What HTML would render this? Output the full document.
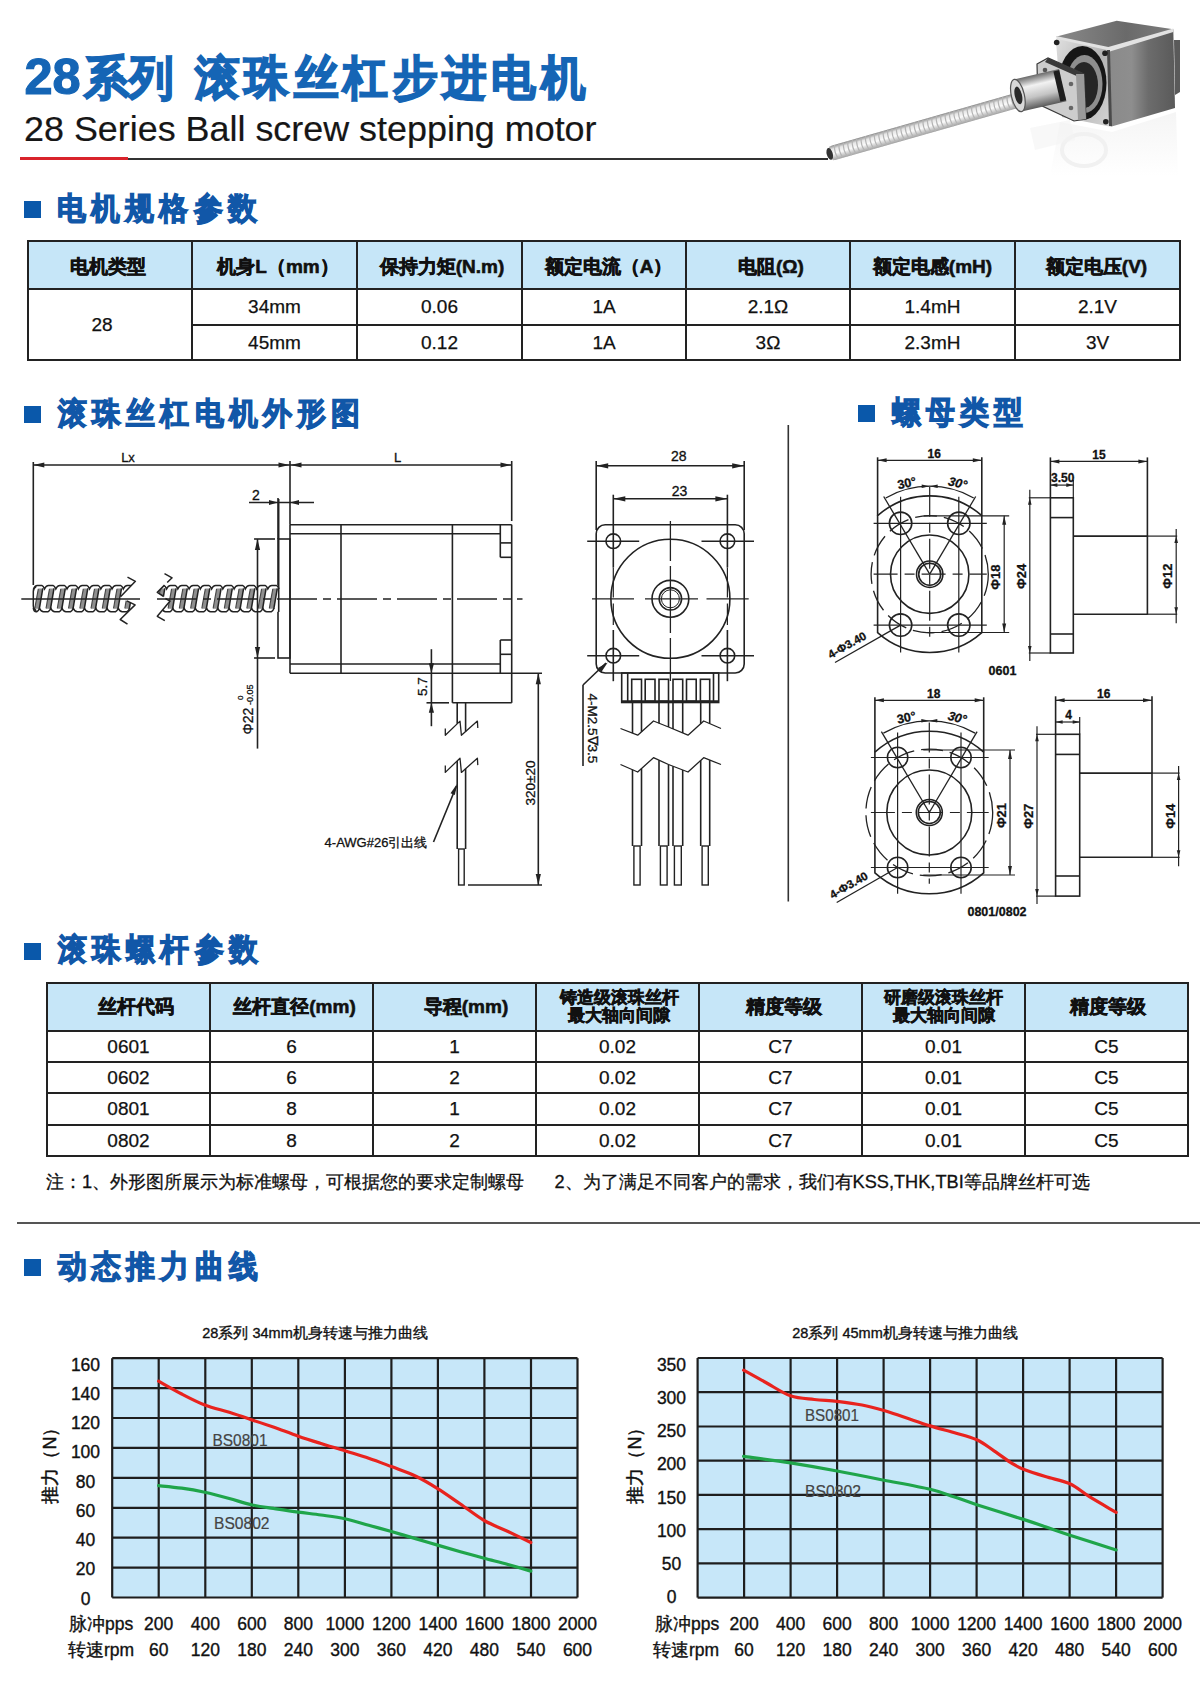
<!DOCTYPE html>
<html><head><meta charset="utf-8">
<style>
html,body{margin:0;padding:0;background:#fff;}
body{width:1200px;height:1683px;position:relative;overflow:hidden;font-family:"Liberation Sans",sans-serif;color:#111;}
.a{position:absolute;white-space:nowrap;}
.blue{color:#1360b0;}
.sq{position:absolute;width:17px;height:17px;background:#0a58aa;}
.sh{position:absolute;font-size:31px;line-height:32px;font-weight:900;color:#1157a8;letter-spacing:5.7px;white-space:nowrap;-webkit-text-stroke:1.3px #1157a8;transform:scaleX(0.93);transform-origin:0 0;}
table{border-collapse:collapse;position:absolute;table-layout:fixed;}
td{border:2px solid #222;text-align:center;padding:0;font-size:19px;color:#111;-webkit-text-stroke:0.25px #111;}
tr.h td{background:#c6e6f8;font-weight:bold;font-size:19px;-webkit-text-stroke:0.6px #111;}
svg{position:absolute;left:0;top:0;}
</style></head><body>

<!-- Title -->
<div class="a" style="left:24.5px;top:50px;font-size:50.5px;line-height:54px;font-weight:bold;color:#1565b5;-webkit-text-stroke:1.2px #1565b5;">28</div>
<div class="a" style="left:84px;top:51px;font-size:47px;line-height:54px;font-weight:900;color:#1565b5;-webkit-text-stroke:1.7px #1565b5;letter-spacing:0px;transform:scaleX(0.95);transform-origin:0 0;">系列</div>
<div class="a" style="left:195px;top:51px;font-size:47px;line-height:54px;font-weight:900;color:#1565b5;-webkit-text-stroke:1.7px #1565b5;letter-spacing:5px;transform:scaleX(0.95);transform-origin:0 0;">滚珠丝杠步进电机</div>
<div class="a" id="t2" style="left:24px;top:110px;font-size:35.9px;line-height:38px;color:#161616;-webkit-text-stroke:0.2px #161616;">28 Series Ball screw stepping motor</div>
<div class="a" style="left:20px;top:157px;width:108px;height:3px;background:#d9232b;"></div>
<div class="a" style="left:128px;top:158px;width:700px;height:1.5px;background:#333;"></div>

<!-- Section 1 -->
<div class="sq" style="left:24px;top:201px;"></div>
<div class="sh" style="left:57px;top:193px;">电机规格参数</div>

<table style="left:27px;top:240px;width:1151px;">
<colgroup><col style="width:164px"><col style="width:165px"><col style="width:165px"><col style="width:164px"><col style="width:164px"><col style="width:165px"><col style="width:165px"></colgroup>
<tr class="h" style="height:48px"><td style="padding:4px 4px 0 0">电机类型</td><td style="padding:4px 0 0 7px">机身L（mm）</td><td style="padding:4px 0 0 5px">保持力矩(N.m)</td><td style="padding:4px 0 0 9px">额定电流（A）</td><td style="padding:4px 0 0 6px">电阻(Ω)</td><td style="padding-top:4px">额定电感(mH)</td><td style="padding:4px 2px 0 0">额定电压(V)</td></tr>
<tr style="height:36px"><td rowspan="2" style="padding-right:16px">28</td><td>34mm</td><td>0.06</td><td>1A</td><td>2.1Ω</td><td>1.4mH</td><td>2.1V</td></tr>
<tr style="height:35px"><td>45mm</td><td>0.12</td><td>1A</td><td>3Ω</td><td>2.3mH</td><td>3V</td></tr>
</table>

<!-- Section 2 -->
<div class="sq" style="left:24px;top:406px;"></div>
<div class="sh" style="left:58px;top:398px;">滚珠丝杠电机外形图</div>
<div class="sq" style="left:858px;top:405px;"></div>
<div class="sh" style="left:892px;top:397px;">螺母类型</div>

<!-- Section 3 -->
<div class="sq" style="left:24px;top:943px;"></div>
<div class="sh" style="left:58px;top:934px;">滚珠螺杆参数</div>

<table style="left:46px;top:982px;width:1141px;">
<colgroup><col style="width:163px"><col style="width:163px"><col style="width:163px"><col style="width:163px"><col style="width:163px"><col style="width:163px"><col style="width:163px"></colgroup>
<tr class="h" style="height:48px"><td style="padding-left:14px">丝杆代码</td><td style="padding-left:6px">丝杆直径(mm)</td><td style="padding-left:23px">导程(mm)</td><td style="line-height:18px;font-size:17px;padding-left:3px">铸造级滚珠丝杆<br>最大轴向间隙</td><td style="padding-left:7px">精度等级</td><td style="line-height:18px;font-size:17px">研磨级滚珠丝杆<br>最大轴向间隙</td><td style="padding-left:3px">精度等级</td></tr>
<tr style="height:31px"><td>0601</td><td>6</td><td>1</td><td>0.02</td><td>C7</td><td>0.01</td><td>C5</td></tr>
<tr style="height:31px"><td>0602</td><td>6</td><td>2</td><td>0.02</td><td>C7</td><td>0.01</td><td>C5</td></tr>
<tr style="height:32px"><td>0801</td><td>8</td><td>1</td><td>0.02</td><td>C7</td><td>0.01</td><td>C5</td></tr>
<tr style="height:31px"><td>0802</td><td>8</td><td>2</td><td>0.02</td><td>C7</td><td>0.01</td><td>C5</td></tr>
</table>

<div class="a" style="left:46px;top:1171px;font-size:18.2px;line-height:22px;color:#111;-webkit-text-stroke:0.3px #111;">注：1、外形图所展示为标准螺母，可根据您的要求定制螺母&nbsp;&nbsp;&nbsp;&nbsp;&nbsp;&nbsp;2、为了满足不同客户的需求，我们有KSS,THK,TBI等品牌丝杆可选</div>

<div class="a" style="left:17px;top:1222px;width:1183px;height:2px;background:#555;"></div>

<!-- Section 4 -->
<div class="sq" style="left:24px;top:1259px;"></div>
<div class="sh" style="left:58px;top:1250.5px;">动态推力曲线</div>

<svg width="1200" height="1683" style="position:absolute;left:0;top:0" font-family="Liberation Sans, sans-serif">
<defs>
<linearGradient id="scr" x1="0" y1="0" x2="0" y2="1">
<stop offset="0" stop-color="#8a8a8a"/><stop offset="0.25" stop-color="#e6e6e6"/><stop offset="0.55" stop-color="#fafafa"/><stop offset="1" stop-color="#a0a0a0"/></linearGradient>
<linearGradient id="side" x1="0" y1="0" x2="1" y2="0">
<stop offset="0" stop-color="#8a8a8a"/><stop offset="0.35" stop-color="#8e8e8e"/><stop offset="0.6" stop-color="#6c6c6c"/><stop offset="1" stop-color="#5a5a5a"/></linearGradient>
<linearGradient id="top" x1="0" y1="0" x2="1" y2="0">
<stop offset="0" stop-color="#8a8a8a"/><stop offset="0.6" stop-color="#6a6a6a"/><stop offset="1" stop-color="#7c7c7c"/></linearGradient>
<linearGradient id="front" x1="0" y1="0" x2="1" y2="1">
<stop offset="0" stop-color="#e0e0e0"/><stop offset="0.5" stop-color="#b4b4b4"/><stop offset="1" stop-color="#d4d4d4"/></linearGradient>
<linearGradient id="nutg" x1="0" y1="0" x2="0" y2="1">
<stop offset="0" stop-color="#6a6a6a"/><stop offset="0.3" stop-color="#f2f2f2"/><stop offset="0.65" stop-color="#c4c4c4"/><stop offset="1" stop-color="#5a5a5a"/></linearGradient>
<linearGradient id="refl" x1="0" y1="0" x2="0" y2="1">
<stop offset="0" stop-color="#ececec"/><stop offset="1" stop-color="#ffffff"/></linearGradient>
</defs>
<polygon points="1060,122 1112,132 1176,112 1178,176 1050,176" fill="url(#refl)" opacity="0.55"/>
<ellipse cx="1084" cy="150" rx="22" ry="16" fill="none" stroke="#f1f1f1" stroke-width="4"/>
<polygon points="1030,128 1070,120 1075,140 1035,150" fill="#f3f3f3" opacity="0.6"/>
<g transform="translate(828.3,154.3) rotate(-15.94)">
<rect x="0" y="-7.5" width="206.9" height="15" rx="6" fill="url(#scr)"/>
<path d="M4.0,-7.2 Q1.2,0 4.0,7.2" stroke="#b4b4b4" stroke-width="1.2" fill="none"/>
<path d="M8.6,-7.2 Q5.8,0 8.6,7.2" stroke="#b4b4b4" stroke-width="1.2" fill="none"/>
<path d="M13.2,-7.2 Q10.4,0 13.2,7.2" stroke="#b4b4b4" stroke-width="1.2" fill="none"/>
<path d="M17.8,-7.2 Q15.0,0 17.8,7.2" stroke="#b4b4b4" stroke-width="1.2" fill="none"/>
<path d="M22.4,-7.2 Q19.6,0 22.4,7.2" stroke="#b4b4b4" stroke-width="1.2" fill="none"/>
<path d="M27.0,-7.2 Q24.2,0 27.0,7.2" stroke="#b4b4b4" stroke-width="1.2" fill="none"/>
<path d="M31.6,-7.2 Q28.8,0 31.6,7.2" stroke="#b4b4b4" stroke-width="1.2" fill="none"/>
<path d="M36.2,-7.2 Q33.4,0 36.2,7.2" stroke="#b4b4b4" stroke-width="1.2" fill="none"/>
<path d="M40.8,-7.2 Q38.0,0 40.8,7.2" stroke="#b4b4b4" stroke-width="1.2" fill="none"/>
<path d="M45.4,-7.2 Q42.6,0 45.4,7.2" stroke="#b4b4b4" stroke-width="1.2" fill="none"/>
<path d="M50.0,-7.2 Q47.2,0 50.0,7.2" stroke="#b4b4b4" stroke-width="1.2" fill="none"/>
<path d="M54.6,-7.2 Q51.8,0 54.6,7.2" stroke="#b4b4b4" stroke-width="1.2" fill="none"/>
<path d="M59.2,-7.2 Q56.4,0 59.2,7.2" stroke="#b4b4b4" stroke-width="1.2" fill="none"/>
<path d="M63.8,-7.2 Q61.0,0 63.8,7.2" stroke="#b4b4b4" stroke-width="1.2" fill="none"/>
<path d="M68.4,-7.2 Q65.6,0 68.4,7.2" stroke="#b4b4b4" stroke-width="1.2" fill="none"/>
<path d="M73.0,-7.2 Q70.2,0 73.0,7.2" stroke="#b4b4b4" stroke-width="1.2" fill="none"/>
<path d="M77.6,-7.2 Q74.8,0 77.6,7.2" stroke="#b4b4b4" stroke-width="1.2" fill="none"/>
<path d="M82.2,-7.2 Q79.4,0 82.2,7.2" stroke="#b4b4b4" stroke-width="1.2" fill="none"/>
<path d="M86.8,-7.2 Q84.0,0 86.8,7.2" stroke="#b4b4b4" stroke-width="1.2" fill="none"/>
<path d="M91.4,-7.2 Q88.6,0 91.4,7.2" stroke="#b4b4b4" stroke-width="1.2" fill="none"/>
<path d="M96.0,-7.2 Q93.2,0 96.0,7.2" stroke="#b4b4b4" stroke-width="1.2" fill="none"/>
<path d="M100.6,-7.2 Q97.8,0 100.6,7.2" stroke="#b4b4b4" stroke-width="1.2" fill="none"/>
<path d="M105.2,-7.2 Q102.4,0 105.2,7.2" stroke="#b4b4b4" stroke-width="1.2" fill="none"/>
<path d="M109.8,-7.2 Q107.0,0 109.8,7.2" stroke="#b4b4b4" stroke-width="1.2" fill="none"/>
<path d="M114.4,-7.2 Q111.6,0 114.4,7.2" stroke="#b4b4b4" stroke-width="1.2" fill="none"/>
<path d="M119.0,-7.2 Q116.2,0 119.0,7.2" stroke="#b4b4b4" stroke-width="1.2" fill="none"/>
<path d="M123.6,-7.2 Q120.8,0 123.6,7.2" stroke="#b4b4b4" stroke-width="1.2" fill="none"/>
<path d="M128.2,-7.2 Q125.4,0 128.2,7.2" stroke="#b4b4b4" stroke-width="1.2" fill="none"/>
<path d="M132.8,-7.2 Q130.0,0 132.8,7.2" stroke="#b4b4b4" stroke-width="1.2" fill="none"/>
<path d="M137.4,-7.2 Q134.6,0 137.4,7.2" stroke="#b4b4b4" stroke-width="1.2" fill="none"/>
<path d="M142.0,-7.2 Q139.2,0 142.0,7.2" stroke="#b4b4b4" stroke-width="1.2" fill="none"/>
<path d="M146.6,-7.2 Q143.8,0 146.6,7.2" stroke="#b4b4b4" stroke-width="1.2" fill="none"/>
<path d="M151.2,-7.2 Q148.4,0 151.2,7.2" stroke="#b4b4b4" stroke-width="1.2" fill="none"/>
<path d="M155.8,-7.2 Q153.0,0 155.8,7.2" stroke="#b4b4b4" stroke-width="1.2" fill="none"/>
<path d="M160.4,-7.2 Q157.6,0 160.4,7.2" stroke="#b4b4b4" stroke-width="1.2" fill="none"/>
<path d="M165.0,-7.2 Q162.2,0 165.0,7.2" stroke="#b4b4b4" stroke-width="1.2" fill="none"/>
<path d="M169.6,-7.2 Q166.8,0 169.6,7.2" stroke="#b4b4b4" stroke-width="1.2" fill="none"/>
<path d="M174.2,-7.2 Q171.4,0 174.2,7.2" stroke="#b4b4b4" stroke-width="1.2" fill="none"/>
<path d="M178.8,-7.2 Q176.0,0 178.8,7.2" stroke="#b4b4b4" stroke-width="1.2" fill="none"/>
<path d="M183.4,-7.2 Q180.6,0 183.4,7.2" stroke="#b4b4b4" stroke-width="1.2" fill="none"/>
<path d="M188.0,-7.2 Q185.2,0 188.0,7.2" stroke="#b4b4b4" stroke-width="1.2" fill="none"/>
<path d="M192.6,-7.2 Q189.8,0 192.6,7.2" stroke="#b4b4b4" stroke-width="1.2" fill="none"/>
<path d="M197.2,-7.2 Q194.4,0 197.2,7.2" stroke="#b4b4b4" stroke-width="1.2" fill="none"/>
<path d="M201.8,-7.2 Q199.0,0 201.8,7.2" stroke="#b4b4b4" stroke-width="1.2" fill="none"/>
<ellipse cx="1.5" cy="0" rx="3" ry="6" fill="#333"/>
</g>
<polygon points="1108.3,48.3 1173.3,29.2 1175,108 1110.8,126.7" fill="url(#side)"/>
<polygon points="1174,40 1180,40 1180,92 1175,95" fill="#5a5a5a"/>
<polygon points="1055.8,36.7 1116.7,20.8 1173.3,29.2 1108.3,48.3" fill="url(#top)"/>
<polygon points="1056,36 1108.3,47 1173.3,28.5 1173.3,32 1108.3,52 1057,40" fill="#e2e2e2"/>
<polygon points="1055.8,38.7 1108.3,50.3 1110.8,126.7 1062,117" fill="url(#front)"/>
<polygon points="1107,50 1110,50 1112,126 1109,126" fill="#4a4a4a"/>
<ellipse cx="1082.5" cy="83" rx="24" ry="37" fill="#161616"/>
<ellipse cx="1084.5" cy="84" rx="18" ry="29" fill="#8e8e8e"/>
<ellipse cx="1084" cy="85" rx="14" ry="23" fill="#262626"/>
<circle cx="1056.7" cy="42.5" r="2.8" fill="#222"/>
<circle cx="1105.0" cy="53.3" r="2.8" fill="#222"/>
<circle cx="1105.8" cy="121.7" r="2.8" fill="#222"/>
<polygon points="1037,64 1048,58 1084,74 1086,119 1074,121 1038,104" fill="#cdcdcd" stroke="#3a3a3a" stroke-width="1.2"/>
<polygon points="1048,58 1084,74 1081,78 1045,62" fill="#3a3a3a"/>
<polygon points="1076,74 1084,74 1086,119 1078,120" fill="#9a9a9a"/>
<circle cx="1071" cy="84" r="2.3" fill="#666"/><circle cx="1071" cy="108" r="2.3" fill="#666"/><circle cx="1045" cy="70" r="2.3" fill="#555"/>
<g transform="translate(1018,96) rotate(-13)">
<rect x="0" y="-17" width="46" height="33" fill="url(#nutg)"/>
<rect x="40" y="-16" width="6" height="31" fill="#1e1e1e"/>
<ellipse cx="0" cy="-0.5" rx="6.5" ry="16.5" fill="#d8d8d8" stroke="#555" stroke-width="1.2"/>
<ellipse cx="0.5" cy="-0.5" rx="3.6" ry="9" fill="#2a2a2a"/>
</g>
<g font-family="Liberation Sans, sans-serif" stroke-linecap="butt">
<line x1="33.3" y1="462.0" x2="33.3" y2="585.0" stroke="#222" stroke-width="1.60"/>
<line x1="33.3" y1="465.0" x2="511.5" y2="465.0" stroke="#222" stroke-width="1.60"/>
<polygon points="33.3,465.0 44.3,462.4 44.3,467.6" fill="#222"/>
<polygon points="289.5,465.0 278.5,467.6 278.5,462.4" fill="#222"/>
<polygon points="290.5,465.0 301.5,462.4 301.5,467.6" fill="#222"/>
<polygon points="511.5,465.0 500.5,467.6 500.5,462.4" fill="#222"/>
<line x1="290.0" y1="461.0" x2="290.0" y2="524.7" stroke="#222" stroke-width="1.60"/>
<line x1="511.7" y1="461.0" x2="511.7" y2="521.0" stroke="#222" stroke-width="1.60"/>
<text x="128.0" y="462.0" font-size="13.0" text-anchor="middle" font-weight="normal" fill="#111" stroke="#111" stroke-width="0.3">Lx</text>
<text x="397.5" y="462.0" font-size="13.0" text-anchor="middle" font-weight="normal" fill="#111" stroke="#111" stroke-width="0.3">L</text>
<line x1="249.0" y1="502.5" x2="314.0" y2="502.5" stroke="#222" stroke-width="1.60"/>
<polygon points="278.0,502.5 269.0,505.1 269.0,499.9" fill="#222"/>
<polygon points="290.0,502.5 299.0,499.9 299.0,505.1" fill="#222"/>
<line x1="278.0" y1="498.0" x2="278.0" y2="539.0" stroke="#222" stroke-width="1.60"/>
<text x="256.0" y="500.0" font-size="14.0" text-anchor="middle" font-weight="normal" fill="#111" stroke="#111" stroke-width="0.3">2</text>
<rect x="278.0" y="539.0" width="12.0" height="119.0" rx="0.0" fill="none" stroke="#222" stroke-width="1.60"/>
<line x1="290.0" y1="524.7" x2="511.7" y2="524.7" stroke="#222" stroke-width="1.60"/>
<line x1="290.0" y1="673.2" x2="542.0" y2="673.2" stroke="#222" stroke-width="1.60"/>
<line x1="290.0" y1="524.7" x2="290.0" y2="673.2" stroke="#222" stroke-width="1.60"/>
<line x1="290.0" y1="533.7" x2="500.3" y2="533.7" stroke="#222" stroke-width="1.60"/>
<line x1="290.0" y1="664.0" x2="500.3" y2="664.0" stroke="#222" stroke-width="1.60"/>
<line x1="341.0" y1="524.7" x2="341.0" y2="673.2" stroke="#222" stroke-width="1.60"/>
<line x1="452.4" y1="524.7" x2="452.4" y2="702.8" stroke="#222" stroke-width="1.60"/>
<line x1="511.7" y1="524.7" x2="511.7" y2="702.8" stroke="#222" stroke-width="1.60"/>
<line x1="500.3" y1="524.7" x2="500.3" y2="557.3" stroke="#222" stroke-width="1.60"/>
<line x1="500.3" y1="542.9" x2="511.7" y2="542.9" stroke="#222" stroke-width="1.60"/>
<line x1="500.3" y1="557.3" x2="511.7" y2="557.3" stroke="#222" stroke-width="1.60"/>
<line x1="500.3" y1="640.0" x2="500.3" y2="673.2" stroke="#222" stroke-width="1.60"/>
<line x1="500.3" y1="640.0" x2="511.7" y2="640.0" stroke="#222" stroke-width="1.60"/>
<line x1="500.3" y1="654.3" x2="511.7" y2="654.3" stroke="#222" stroke-width="1.60"/>
<line x1="452.4" y1="702.8" x2="511.7" y2="702.8" stroke="#222" stroke-width="1.60"/>
<rect x="33.3" y="585.4" width="105.7" height="26.4" fill="#fff"/>
<polygon points="38.3,588.4 42.8,588.4 39.3,608.8 34.8,608.8" fill="#8f8f8f"/>
<line x1="42.8" y1="588.4" x2="39.3" y2="608.8" stroke="#222" stroke-width="1.50"/>
<line x1="38.3" y1="588.9" x2="34.8" y2="608.3" stroke="#444" stroke-width="1.10"/>
<polygon points="49.5,588.4 54.0,588.4 50.5,608.8 46.0,608.8" fill="#8f8f8f"/>
<line x1="54.0" y1="588.4" x2="50.5" y2="608.8" stroke="#222" stroke-width="1.50"/>
<line x1="49.5" y1="588.9" x2="46.0" y2="608.3" stroke="#444" stroke-width="1.10"/>
<polygon points="60.8,588.4 65.3,588.4 61.8,608.8 57.3,608.8" fill="#8f8f8f"/>
<line x1="65.3" y1="588.4" x2="61.8" y2="608.8" stroke="#222" stroke-width="1.50"/>
<line x1="60.8" y1="588.9" x2="57.3" y2="608.3" stroke="#444" stroke-width="1.10"/>
<polygon points="72.0,588.4 76.5,588.4 73.0,608.8 68.5,608.8" fill="#8f8f8f"/>
<line x1="76.5" y1="588.4" x2="73.0" y2="608.8" stroke="#222" stroke-width="1.50"/>
<line x1="72.0" y1="588.9" x2="68.5" y2="608.3" stroke="#444" stroke-width="1.10"/>
<polygon points="83.3,588.4 87.8,588.4 84.3,608.8 79.8,608.8" fill="#8f8f8f"/>
<line x1="87.8" y1="588.4" x2="84.3" y2="608.8" stroke="#222" stroke-width="1.50"/>
<line x1="83.3" y1="588.9" x2="79.8" y2="608.3" stroke="#444" stroke-width="1.10"/>
<polygon points="94.5,588.4 99.0,588.4 95.5,608.8 91.0,608.8" fill="#8f8f8f"/>
<line x1="99.0" y1="588.4" x2="95.5" y2="608.8" stroke="#222" stroke-width="1.50"/>
<line x1="94.5" y1="588.9" x2="91.0" y2="608.3" stroke="#444" stroke-width="1.10"/>
<polygon points="105.8,588.4 110.3,588.4 106.8,608.8 102.3,608.8" fill="#8f8f8f"/>
<line x1="110.3" y1="588.4" x2="106.8" y2="608.8" stroke="#222" stroke-width="1.50"/>
<line x1="105.8" y1="588.9" x2="102.3" y2="608.3" stroke="#444" stroke-width="1.10"/>
<polygon points="117.0,588.4 121.5,588.4 118.0,608.8 113.5,608.8" fill="#8f8f8f"/>
<line x1="121.5" y1="588.4" x2="118.0" y2="608.8" stroke="#222" stroke-width="1.50"/>
<line x1="117.0" y1="588.9" x2="113.5" y2="608.3" stroke="#444" stroke-width="1.10"/>
<polygon points="128.3,588.4 132.8,588.4 129.3,608.8 124.8,608.8" fill="#8f8f8f"/>
<line x1="132.8" y1="588.4" x2="129.3" y2="608.8" stroke="#222" stroke-width="1.50"/>
<line x1="128.3" y1="588.9" x2="124.8" y2="608.3" stroke="#444" stroke-width="1.10"/>
<path d="M33.3,589.4 Q34.8,585.4 37.3,585.4 L41.8,585.4 Q43.3,585.9 44.5,588.9 Q46.0,585.4 48.5,585.4 L53.0,585.4 Q54.5,585.9 55.8,588.9 Q57.3,585.4 59.8,585.4 L64.3,585.4 Q65.8,585.9 67.0,588.9 Q68.5,585.4 71.0,585.4 L75.5,585.4 Q77.0,585.9 78.3,588.9 Q79.8,585.4 82.3,585.4 L86.8,585.4 Q88.3,585.9 89.5,588.9 Q91.0,585.4 93.5,585.4 L98.0,585.4 Q99.5,585.9 100.8,588.9 Q102.3,585.4 104.8,585.4 L109.3,585.4 Q110.8,585.9 112.0,588.9 Q113.5,585.4 116.0,585.4 L120.5,585.4 Q122.0,585.9 123.3,588.9 Q124.8,585.4 127.3,585.4 L131.8,585.4 Q133.3,585.9 134.6,588.9" fill="none" stroke="#222" stroke-width="1.50"/>
<path d="M33.3,607.8 Q33.8,611.8 36.3,611.8 L36.8,611.8 Q38.3,611.3 39.5,608.3 Q41.0,611.8 43.5,611.8 L48.0,611.8 Q49.5,611.3 50.8,608.3 Q52.3,611.8 54.8,611.8 L59.3,611.8 Q60.8,611.3 62.0,608.3 Q63.5,611.8 66.0,611.8 L70.5,611.8 Q72.0,611.3 73.3,608.3 Q74.8,611.8 77.3,611.8 L81.8,611.8 Q83.3,611.3 84.5,608.3 Q86.0,611.8 88.5,611.8 L93.0,611.8 Q94.5,611.3 95.8,608.3 Q97.3,611.8 99.8,611.8 L104.3,611.8 Q105.8,611.3 107.0,608.3 Q108.5,611.8 111.0,611.8 L115.5,611.8 Q117.0,611.3 118.3,608.3 Q119.8,611.8 122.3,611.8 L126.8,611.8 Q128.3,611.3 129.6,608.3" fill="none" stroke="#222" stroke-width="1.50"/>
<path d="M36.3,586.4 Q33.3,588.4 33.3,591.4 L33.3,605.8 Q33.3,608.8 36.3,610.8" fill="none" stroke="#222" stroke-width="1.50"/>
<rect x="155.3" y="585.4" width="123.4" height="26.4" fill="#fff"/>
<polygon points="160.3,588.4 164.8,588.4 161.3,608.8 156.8,608.8" fill="#8f8f8f"/>
<line x1="164.8" y1="588.4" x2="161.3" y2="608.8" stroke="#222" stroke-width="1.50"/>
<line x1="160.3" y1="588.9" x2="156.8" y2="608.3" stroke="#444" stroke-width="1.10"/>
<polygon points="171.6,588.4 176.1,588.4 172.6,608.8 168.1,608.8" fill="#8f8f8f"/>
<line x1="176.1" y1="588.4" x2="172.6" y2="608.8" stroke="#222" stroke-width="1.50"/>
<line x1="171.6" y1="588.9" x2="168.1" y2="608.3" stroke="#444" stroke-width="1.10"/>
<polygon points="182.8,588.4 187.3,588.4 183.8,608.8 179.3,608.8" fill="#8f8f8f"/>
<line x1="187.3" y1="588.4" x2="183.8" y2="608.8" stroke="#222" stroke-width="1.50"/>
<line x1="182.8" y1="588.9" x2="179.3" y2="608.3" stroke="#444" stroke-width="1.10"/>
<polygon points="194.1,588.4 198.6,588.4 195.1,608.8 190.6,608.8" fill="#8f8f8f"/>
<line x1="198.6" y1="588.4" x2="195.1" y2="608.8" stroke="#222" stroke-width="1.50"/>
<line x1="194.1" y1="588.9" x2="190.6" y2="608.3" stroke="#444" stroke-width="1.10"/>
<polygon points="205.3,588.4 209.8,588.4 206.3,608.8 201.8,608.8" fill="#8f8f8f"/>
<line x1="209.8" y1="588.4" x2="206.3" y2="608.8" stroke="#222" stroke-width="1.50"/>
<line x1="205.3" y1="588.9" x2="201.8" y2="608.3" stroke="#444" stroke-width="1.10"/>
<polygon points="216.6,588.4 221.1,588.4 217.6,608.8 213.1,608.8" fill="#8f8f8f"/>
<line x1="221.1" y1="588.4" x2="217.6" y2="608.8" stroke="#222" stroke-width="1.50"/>
<line x1="216.6" y1="588.9" x2="213.1" y2="608.3" stroke="#444" stroke-width="1.10"/>
<polygon points="227.8,588.4 232.3,588.4 228.8,608.8 224.3,608.8" fill="#8f8f8f"/>
<line x1="232.3" y1="588.4" x2="228.8" y2="608.8" stroke="#222" stroke-width="1.50"/>
<line x1="227.8" y1="588.9" x2="224.3" y2="608.3" stroke="#444" stroke-width="1.10"/>
<polygon points="239.1,588.4 243.6,588.4 240.1,608.8 235.6,608.8" fill="#8f8f8f"/>
<line x1="243.6" y1="588.4" x2="240.1" y2="608.8" stroke="#222" stroke-width="1.50"/>
<line x1="239.1" y1="588.9" x2="235.6" y2="608.3" stroke="#444" stroke-width="1.10"/>
<polygon points="250.3,588.4 254.8,588.4 251.3,608.8 246.8,608.8" fill="#8f8f8f"/>
<line x1="254.8" y1="588.4" x2="251.3" y2="608.8" stroke="#222" stroke-width="1.50"/>
<line x1="250.3" y1="588.9" x2="246.8" y2="608.3" stroke="#444" stroke-width="1.10"/>
<polygon points="261.6,588.4 266.1,588.4 262.6,608.8 258.1,608.8" fill="#8f8f8f"/>
<line x1="266.1" y1="588.4" x2="262.6" y2="608.8" stroke="#222" stroke-width="1.50"/>
<line x1="261.6" y1="588.9" x2="258.1" y2="608.3" stroke="#444" stroke-width="1.10"/>
<polygon points="272.8,588.4 277.3,588.4 273.8,608.8 269.3,608.8" fill="#8f8f8f"/>
<line x1="277.3" y1="588.4" x2="273.8" y2="608.8" stroke="#222" stroke-width="1.50"/>
<line x1="272.8" y1="588.9" x2="269.3" y2="608.3" stroke="#444" stroke-width="1.10"/>
<path d="M155.3,589.4 Q156.8,585.4 159.3,585.4 L163.8,585.4 Q165.3,585.9 166.6,588.9 Q168.1,585.4 170.6,585.4 L175.1,585.4 Q176.6,585.9 177.8,588.9 Q179.3,585.4 181.8,585.4 L186.3,585.4 Q187.8,585.9 189.1,588.9 Q190.6,585.4 193.1,585.4 L197.6,585.4 Q199.1,585.9 200.3,588.9 Q201.8,585.4 204.3,585.4 L208.8,585.4 Q210.3,585.9 211.6,588.9 Q213.1,585.4 215.6,585.4 L220.1,585.4 Q221.6,585.9 222.8,588.9 Q224.3,585.4 226.8,585.4 L231.3,585.4 Q232.8,585.9 234.1,588.9 Q235.6,585.4 238.1,585.4 L242.6,585.4 Q244.1,585.9 245.3,588.9 Q246.8,585.4 249.3,585.4 L253.8,585.4 Q255.3,585.9 256.6,588.9 Q258.1,585.4 260.6,585.4 L265.1,585.4 Q266.6,585.9 267.8,588.9 Q269.3,585.4 271.8,585.4 L276.3,585.4 Q277.8,585.9 279.1,588.9" fill="none" stroke="#222" stroke-width="1.50"/>
<path d="M155.3,607.8 Q155.8,611.8 158.3,611.8 L158.8,611.8 Q160.3,611.3 161.6,608.3 Q163.1,611.8 165.6,611.8 L170.1,611.8 Q171.6,611.3 172.8,608.3 Q174.3,611.8 176.8,611.8 L181.3,611.8 Q182.8,611.3 184.1,608.3 Q185.6,611.8 188.1,611.8 L192.6,611.8 Q194.1,611.3 195.3,608.3 Q196.8,611.8 199.3,611.8 L203.8,611.8 Q205.3,611.3 206.6,608.3 Q208.1,611.8 210.6,611.8 L215.1,611.8 Q216.6,611.3 217.8,608.3 Q219.3,611.8 221.8,611.8 L226.3,611.8 Q227.8,611.3 229.1,608.3 Q230.6,611.8 233.1,611.8 L237.6,611.8 Q239.1,611.3 240.3,608.3 Q241.8,611.8 244.3,611.8 L248.8,611.8 Q250.3,611.3 251.6,608.3 Q253.1,611.8 255.6,611.8 L260.1,611.8 Q261.6,611.3 262.8,608.3 Q264.3,611.8 266.8,611.8 L271.3,611.8 Q272.8,611.3 274.1,608.3" fill="none" stroke="#222" stroke-width="1.50"/>
<polygon points="135.4,577 135.4,581.3 120.5,596.8 121,599 126.9,600.8 135.1,604.9 120.2,619.5 120,625 142,625 142,577" fill="#fff"/>
<polygon points="148,578 167,578 164.5,585.1 157.3,592.4 163.7,596.5 165.4,598.5 170.1,601.1 157.3,616.3 164.8,620.7 148,625" fill="#fff"/>
<polyline points="127.5,577.2 135.4,581.3 120.5,596.8" fill="none" stroke="#222" stroke-width="1.50" stroke-linejoin="round"/>
<polyline points="126.9,600.8 135.1,604.9 120.2,619.5 127.5,624.2" fill="none" stroke="#222" stroke-width="1.50" stroke-linejoin="round"/>
<polyline points="164.5,573.7 172.1,577.8 167.2,582.5" fill="none" stroke="#222" stroke-width="1.50" stroke-linejoin="round"/>
<polyline points="164.5,585.1 157.3,592.4 163.7,596.5" fill="none" stroke="#222" stroke-width="1.50" stroke-linejoin="round"/>
<polyline points="165.4,598.5 170.1,601.1 157.3,616.3 164.8,620.7" fill="none" stroke="#222" stroke-width="1.50" stroke-linejoin="round"/>
<line x1="278.7" y1="499.0" x2="278.7" y2="612.0" stroke="#222" stroke-width="1.60"/>
<line x1="21.3" y1="599.0" x2="140.0" y2="599.0" stroke="#222" stroke-width="1.30"/>
<line x1="157.0" y1="599.0" x2="522.5" y2="599.0" stroke="#222" stroke-width="1.30" stroke-dasharray="40 6 8 6"/>
<line x1="257.5" y1="539.0" x2="257.5" y2="748.6" stroke="#222" stroke-width="1.60"/>
<polygon points="257.5,539.0 260.1,550.0 254.9,550.0" fill="#222"/>
<polygon points="257.5,658.0 254.9,647.0 260.1,647.0" fill="#222"/>
<line x1="254.0" y1="539.0" x2="275.0" y2="539.0" stroke="#222" stroke-width="1.60"/>
<line x1="254.0" y1="658.0" x2="275.0" y2="658.0" stroke="#222" stroke-width="1.60"/>
<text x="253.0" y="721.0" font-size="14.0" text-anchor="middle" font-weight="normal" fill="#111" stroke="#111" stroke-width="0.3" transform="rotate(-90.0 253.0 721.0)">Φ22</text>
<text x="243.5" y="697.7" font-size="8.0" text-anchor="middle" font-weight="normal" fill="#111" stroke="#111" stroke-width="0.3" transform="rotate(-90.0 243.5 697.7)">0</text>
<text x="253.5" y="694.8" font-size="9.0" text-anchor="middle" font-weight="normal" fill="#111" stroke="#111" stroke-width="0.3" transform="rotate(-90.0 253.5 694.8)">-0.05</text>
<line x1="431.4" y1="649.2" x2="431.4" y2="726.2" stroke="#222" stroke-width="1.60"/>
<polygon points="431.4,673.2 428.8,663.2 434.0,663.2" fill="#222"/>
<polygon points="431.4,702.8 434.0,712.8 428.8,712.8" fill="#222"/>
<line x1="426.5" y1="702.8" x2="449.0" y2="702.8" stroke="#222" stroke-width="1.60"/>
<text x="427.5" y="686.7" font-size="13.5" text-anchor="middle" font-weight="normal" fill="#111" stroke="#111" stroke-width="0.3" transform="rotate(-90.0 427.5 686.7)">5.7</text>
<line x1="457.2" y1="702.8" x2="457.2" y2="723.8" stroke="#222" stroke-width="1.60"/>
<line x1="465.6" y1="702.8" x2="465.6" y2="731.6" stroke="#222" stroke-width="1.60"/>
<polyline points="445.3,728.5 445.3,735.3 460.0,721.1 461.4,735.3 477.4,721.1 477.8,728.0" fill="none" stroke="#222" stroke-width="1.30" stroke-linejoin="round"/>
<polyline points="445.3,765.6 445.3,772.4 460.0,758.2 461.4,772.4 477.4,758.2 477.8,765.1" fill="none" stroke="#222" stroke-width="1.30" stroke-linejoin="round"/>
<line x1="457.2" y1="760.9" x2="457.2" y2="849.0" stroke="#222" stroke-width="1.60"/>
<line x1="465.6" y1="768.7" x2="465.6" y2="849.0" stroke="#222" stroke-width="1.60"/>
<rect x="458.6" y="849.0" width="5.6" height="36.0" rx="0.0" fill="none" stroke="#222" stroke-width="1.40"/>
<line x1="538.3" y1="673.2" x2="538.3" y2="885.0" stroke="#222" stroke-width="1.60"/>
<polygon points="538.3,673.2 540.9,684.2 535.7,684.2" fill="#222"/>
<polygon points="538.3,885.0 535.7,874.0 540.9,874.0" fill="#222"/>
<line x1="468.0" y1="885.0" x2="542.0" y2="885.0" stroke="#222" stroke-width="1.60"/>
<text x="535.0" y="783.0" font-size="13.5" text-anchor="middle" font-weight="normal" fill="#111" stroke="#111" stroke-width="0.3" transform="rotate(-90.0 535.0 783.0)">320±20</text>
<line x1="433.5" y1="842.0" x2="456.5" y2="786.0" stroke="#222" stroke-width="1.60"/>
<polygon points="457.0,784.0 454.9,795.1 450.5,793.2" fill="#222"/>
<text x="376.0" y="846.5" font-size="13.0" text-anchor="middle" font-weight="normal" fill="#111" stroke="#111" stroke-width="0.3">4-AWG#26引出线</text>
<line x1="596.2" y1="461.0" x2="596.2" y2="530.0" stroke="#222" stroke-width="1.60"/>
<line x1="744.2" y1="461.0" x2="744.2" y2="530.0" stroke="#222" stroke-width="1.60"/>
<line x1="596.2" y1="465.8" x2="744.2" y2="465.8" stroke="#222" stroke-width="1.60"/>
<polygon points="596.2,465.8 608.2,463.2 608.2,468.4" fill="#222"/>
<polygon points="744.2,465.8 732.2,468.4 732.2,463.2" fill="#222"/>
<text x="678.7" y="461.0" font-size="14.0" text-anchor="middle" font-weight="normal" fill="#111" stroke="#111" stroke-width="0.3">28</text>
<line x1="613.3" y1="494.7" x2="613.3" y2="567.5" stroke="#222" stroke-width="1.60"/>
<line x1="727.4" y1="494.7" x2="727.4" y2="567.5" stroke="#222" stroke-width="1.60"/>
<line x1="613.3" y1="498.8" x2="727.4" y2="498.8" stroke="#222" stroke-width="1.60"/>
<polygon points="613.3,498.8 625.3,496.2 625.3,501.4" fill="#222"/>
<polygon points="727.4,498.8 715.4,501.4 715.4,496.2" fill="#222"/>
<text x="679.5" y="495.5" font-size="14.0" text-anchor="middle" font-weight="normal" fill="#111" stroke="#111" stroke-width="0.3">23</text>
<rect x="596.2" y="524.7" width="148.0" height="148.3" rx="9.0" fill="none" stroke="#222" stroke-width="1.60"/>
<circle cx="613.3" cy="541.2" r="7.3" fill="none" stroke="#222" stroke-width="1.60"/>
<circle cx="613.3" cy="655.7" r="7.3" fill="none" stroke="#222" stroke-width="1.60"/>
<circle cx="727.4" cy="541.2" r="7.3" fill="none" stroke="#222" stroke-width="1.60"/>
<circle cx="727.4" cy="655.7" r="7.3" fill="none" stroke="#222" stroke-width="1.60"/>
<line x1="587.2" y1="541.2" x2="639.2" y2="541.2" stroke="#222" stroke-width="1.60"/>
<line x1="701.5" y1="541.2" x2="754.0" y2="541.2" stroke="#222" stroke-width="1.60"/>
<line x1="587.2" y1="655.7" x2="639.2" y2="655.7" stroke="#222" stroke-width="1.60"/>
<line x1="701.5" y1="655.7" x2="754.0" y2="655.7" stroke="#222" stroke-width="1.60"/>
<line x1="613.3" y1="567.5" x2="613.3" y2="625.0" stroke="#222" stroke-width="1.20" stroke-dasharray="30 6"/>
<line x1="613.3" y1="630.0" x2="613.3" y2="681.2" stroke="#222" stroke-width="1.60"/>
<line x1="727.4" y1="567.5" x2="727.4" y2="625.0" stroke="#222" stroke-width="1.20" stroke-dasharray="30 6"/>
<line x1="727.4" y1="630.0" x2="727.4" y2="681.2" stroke="#222" stroke-width="1.60"/>
<circle cx="670.4" cy="598.8" r="59.5" fill="none" stroke="#222" stroke-width="1.60"/>
<circle cx="670.4" cy="598.8" r="18.4" fill="none" stroke="#222" stroke-width="1.60"/>
<circle cx="670.4" cy="598.8" r="11.2" fill="none" stroke="#222" stroke-width="1.60"/>
<circle cx="670.4" cy="598.8" r="9.0" fill="none" stroke="#222" stroke-width="1.00"/>
<line x1="592.0" y1="598.8" x2="634.0" y2="598.8" stroke="#222" stroke-width="1.30"/>
<line x1="645.0" y1="598.8" x2="698.0" y2="598.8" stroke="#222" stroke-width="1.30"/>
<line x1="706.5" y1="598.8" x2="748.7" y2="598.8" stroke="#222" stroke-width="1.30"/>
<line x1="670.4" y1="521.0" x2="670.4" y2="561.0" stroke="#222" stroke-width="1.30"/>
<line x1="670.4" y1="566.0" x2="670.4" y2="633.0" stroke="#222" stroke-width="1.30"/>
<line x1="670.4" y1="638.0" x2="670.4" y2="681.0" stroke="#222" stroke-width="1.30"/>
<rect x="621.7" y="673.0" width="97.0" height="29.5" rx="0.0" fill="none" stroke="#222" stroke-width="1.60"/>
<line x1="627.7" y1="673.0" x2="627.7" y2="702.5" stroke="#222" stroke-width="1.60"/>
<line x1="713.5" y1="673.0" x2="713.5" y2="702.5" stroke="#222" stroke-width="1.60"/>
<line x1="621.7" y1="701.3" x2="718.7" y2="701.3" stroke="#222" stroke-width="2.20"/>
<rect x="631.7" y="679.3" width="9.8" height="22.0" rx="0.0" fill="none" stroke="#222" stroke-width="1.60"/>
<rect x="645.2" y="679.3" width="9.8" height="22.0" rx="0.0" fill="none" stroke="#222" stroke-width="1.60"/>
<rect x="659.0" y="679.3" width="9.5" height="22.0" rx="0.0" fill="none" stroke="#222" stroke-width="1.60"/>
<rect x="673.0" y="679.3" width="9.7" height="22.0" rx="0.0" fill="none" stroke="#222" stroke-width="1.60"/>
<rect x="686.5" y="679.3" width="9.7" height="22.0" rx="0.0" fill="none" stroke="#222" stroke-width="1.60"/>
<rect x="700.4" y="679.3" width="9.3" height="22.0" rx="0.0" fill="none" stroke="#222" stroke-width="1.60"/>
<line x1="632.5" y1="701.0" x2="632.5" y2="733.2" stroke="#222" stroke-width="1.60"/>
<line x1="641.5" y1="701.0" x2="641.5" y2="731.8" stroke="#222" stroke-width="1.60"/>
<line x1="632.5" y1="769.7" x2="632.5" y2="846.0" stroke="#222" stroke-width="1.60"/>
<line x1="641.5" y1="768.6" x2="641.5" y2="846.0" stroke="#222" stroke-width="1.60"/>
<rect x="633.9" y="846.0" width="6.2" height="39.0" rx="0.0" fill="none" stroke="#222" stroke-width="1.40"/>
<line x1="659.0" y1="701.0" x2="659.0" y2="723.2" stroke="#222" stroke-width="1.60"/>
<line x1="668.5" y1="701.0" x2="668.5" y2="727.0" stroke="#222" stroke-width="1.60"/>
<line x1="659.0" y1="760.2" x2="659.0" y2="846.0" stroke="#222" stroke-width="1.60"/>
<line x1="668.5" y1="764.5" x2="668.5" y2="846.0" stroke="#222" stroke-width="1.60"/>
<rect x="660.4" y="846.0" width="6.7" height="39.0" rx="0.0" fill="none" stroke="#222" stroke-width="1.40"/>
<line x1="673.0" y1="701.0" x2="673.0" y2="728.9" stroke="#222" stroke-width="1.60"/>
<line x1="682.7" y1="701.0" x2="682.7" y2="733.0" stroke="#222" stroke-width="1.60"/>
<line x1="673.0" y1="766.2" x2="673.0" y2="846.0" stroke="#222" stroke-width="1.60"/>
<line x1="682.7" y1="770.0" x2="682.7" y2="846.0" stroke="#222" stroke-width="1.60"/>
<rect x="674.4" y="846.0" width="6.9" height="39.0" rx="0.0" fill="none" stroke="#222" stroke-width="1.40"/>
<line x1="700.7" y1="701.0" x2="700.7" y2="723.7" stroke="#222" stroke-width="1.60"/>
<line x1="709.7" y1="701.0" x2="709.7" y2="723.6" stroke="#222" stroke-width="1.60"/>
<line x1="700.7" y1="760.4" x2="700.7" y2="846.0" stroke="#222" stroke-width="1.60"/>
<line x1="709.7" y1="760.1" x2="709.7" y2="846.0" stroke="#222" stroke-width="1.60"/>
<rect x="702.1" y="846.0" width="6.2" height="39.0" rx="0.0" fill="none" stroke="#222" stroke-width="1.40"/>
<polyline points="620.5,728.5 637.7,735.2 653.5,721.0 668.5,727.0 688.0,735.2 703.7,721.0 721.0,728.5" fill="none" stroke="#222" stroke-width="1.30" stroke-linejoin="round"/>
<polyline points="620.5,764.5 637.7,772.0 653.5,757.7 668.5,764.5 688.0,772.0 703.7,757.7 721.0,764.5" fill="none" stroke="#222" stroke-width="1.30" stroke-linejoin="round"/>
<line x1="583.0" y1="685.0" x2="606.0" y2="663.0" stroke="#222" stroke-width="1.60"/>
<line x1="583.0" y1="685.0" x2="583.0" y2="766.0" stroke="#222" stroke-width="1.60"/>
<polygon points="607.7,662.5 601.4,671.9 597.9,668.1" fill="#222"/>
<text x="588.0" y="728.5" font-size="13.5" text-anchor="middle" font-weight="normal" fill="#111" stroke="#111" stroke-width="0.3" transform="rotate(90.0 588.0 728.5)">4-M2.5∇3.5</text>
<line x1="788.3" y1="425.0" x2="788.3" y2="901.5" stroke="#333" stroke-width="1.60"/>
<path d="M877.6,515.7 L877.6,632.7 A78.3,78.3 0 0 0 981.8,632.7 L981.8,515.7 A78.3,78.3 0 0 0 877.6,515.7 Z" fill="none" stroke="#222" stroke-width="1.60"/>
<circle cx="929.7" cy="574.2" r="58.6" fill="none" stroke="#222" stroke-width="1.30" stroke-dasharray="22 7"/>
<circle cx="929.7" cy="574.2" r="39.2" fill="none" stroke="#222" stroke-width="1.60"/>
<circle cx="929.7" cy="574.2" r="13.2" fill="none" stroke="#222" stroke-width="1.60"/>
<circle cx="929.7" cy="574.2" r="11.0" fill="none" stroke="#222" stroke-width="1.60"/>
<circle cx="900.6" cy="523.3" r="11.2" fill="none" stroke="#222" stroke-width="1.60"/>
<circle cx="900.6" cy="625.1" r="11.2" fill="none" stroke="#222" stroke-width="1.60"/>
<circle cx="958.8" cy="523.3" r="11.2" fill="none" stroke="#222" stroke-width="1.60"/>
<circle cx="958.8" cy="625.1" r="11.2" fill="none" stroke="#222" stroke-width="1.60"/>
<line x1="873.6" y1="523.3" x2="986.8" y2="523.3" stroke="#222" stroke-width="1.20"/>
<line x1="873.6" y1="625.1" x2="986.8" y2="625.1" stroke="#222" stroke-width="1.20"/>
<line x1="873.6" y1="574.2" x2="986.8" y2="574.2" stroke="#222" stroke-width="1.20" stroke-dasharray="24 7 10 7"/>
<line x1="900.6" y1="496.7" x2="900.6" y2="652.5" stroke="#222" stroke-width="1.20"/>
<line x1="958.8" y1="496.7" x2="958.8" y2="652.5" stroke="#222" stroke-width="1.20"/>
<line x1="929.7" y1="486.7" x2="929.7" y2="642.5" stroke="#222" stroke-width="1.20" stroke-dasharray="30 6 10 6"/>
<line x1="877.6" y1="457.3" x2="877.6" y2="515.7" stroke="#222" stroke-width="1.60"/>
<line x1="981.8" y1="457.3" x2="981.8" y2="515.7" stroke="#222" stroke-width="1.60"/>
<line x1="877.6" y1="460.3" x2="981.8" y2="460.3" stroke="#222" stroke-width="1.20"/>
<polygon points="877.6,460.3 886.6,458.3 886.6,462.3" fill="#222"/>
<polygon points="981.8,460.3 972.8,462.3 972.8,458.3" fill="#222"/>
<text x="934.2" y="458.3" font-size="12.0" text-anchor="middle" font-weight="bold" fill="#111" stroke="#111" stroke-width="0.3">16</text>
<line x1="929.7" y1="574.2" x2="883.7" y2="496.5" stroke="#222" stroke-width="1.30"/>
<line x1="929.7" y1="574.2" x2="975.7" y2="496.5" stroke="#222" stroke-width="1.30"/>
<path d="M885.7,498.0 A88.0,88.0 0 0 1 973.7,498.0" fill="none" stroke="#222" stroke-width="1.30"/>
<polygon points="929.7,486.2 937.7,484.4 937.7,488.0" fill="#222"/>
<polygon points="929.7,486.2 921.7,488.0 921.7,484.4" fill="#222"/>
<text x="907.7" y="487.2" font-size="12.5" text-anchor="middle" font-weight="bold" fill="#111" stroke="#111" stroke-width="0.3" transform="rotate(-12.0 907.7 487.2)">30°</text>
<text x="956.7" y="487.2" font-size="12.5" text-anchor="middle" font-weight="bold" fill="#111" stroke="#111" stroke-width="0.3" transform="rotate(14.0 956.7 487.2)" font-style="italic">30°</text>
<line x1="923.7" y1="515.8" x2="1009.2" y2="515.8" stroke="#222" stroke-width="1.20"/>
<line x1="923.7" y1="632.5" x2="1009.2" y2="632.5" stroke="#222" stroke-width="1.20"/>
<line x1="1004.2" y1="515.8" x2="1004.2" y2="632.5" stroke="#222" stroke-width="1.20"/>
<polygon points="1004.2,515.8 1006.2,524.8 1002.2,524.8" fill="#222"/>
<polygon points="1004.2,632.5 1002.2,623.5 1006.2,623.5" fill="#222"/>
<text x="1000.2" y="577.1" font-size="13.0" text-anchor="middle" font-weight="bold" fill="#111" stroke="#111" stroke-width="0.3" transform="rotate(-90.0 1000.2 577.1)">Φ18</text>
<line x1="900.6" y1="625.1" x2="835.0" y2="662.5" stroke="#222" stroke-width="1.30"/>
<text x="849.0" y="648.7" font-size="11.5" text-anchor="middle" font-weight="bold" fill="#111" stroke="#111" stroke-width="0.3" transform="rotate(-29.7 849.0 648.7)">4-Φ3.40</text>
<text x="1002.5" y="675.0" font-size="12.5" text-anchor="middle" font-weight="bold" fill="#111" stroke="#111" stroke-width="0.3">0601</text>
<path d="M874.9,752.2 L874.9,872.8 A81.2,81.2 0 0 0 983.7,872.8 L983.7,752.2 A81.2,81.2 0 0 0 874.9,752.2 Z" fill="none" stroke="#222" stroke-width="1.60"/>
<circle cx="929.3" cy="812.5" r="63.4" fill="none" stroke="#222" stroke-width="1.30" stroke-dasharray="22 7"/>
<circle cx="929.3" cy="812.5" r="42.5" fill="none" stroke="#222" stroke-width="1.60"/>
<circle cx="929.3" cy="812.5" r="13.0" fill="none" stroke="#222" stroke-width="1.60"/>
<circle cx="929.3" cy="812.5" r="11.0" fill="none" stroke="#222" stroke-width="1.60"/>
<circle cx="897.6" cy="757.5" r="10.2" fill="none" stroke="#222" stroke-width="1.60"/>
<circle cx="897.6" cy="867.5" r="10.2" fill="none" stroke="#222" stroke-width="1.60"/>
<circle cx="961.0" cy="757.5" r="10.2" fill="none" stroke="#222" stroke-width="1.60"/>
<circle cx="961.0" cy="867.5" r="10.2" fill="none" stroke="#222" stroke-width="1.60"/>
<line x1="870.9" y1="757.5" x2="988.7" y2="757.5" stroke="#222" stroke-width="1.20"/>
<line x1="870.9" y1="867.5" x2="988.7" y2="867.5" stroke="#222" stroke-width="1.20"/>
<line x1="870.9" y1="812.5" x2="988.7" y2="812.5" stroke="#222" stroke-width="1.20" stroke-dasharray="24 7 10 7"/>
<line x1="897.6" y1="732.5" x2="897.6" y2="893.7" stroke="#222" stroke-width="1.20"/>
<line x1="961.0" y1="732.5" x2="961.0" y2="893.7" stroke="#222" stroke-width="1.20"/>
<line x1="929.3" y1="722.5" x2="929.3" y2="883.7" stroke="#222" stroke-width="1.20" stroke-dasharray="30 6 10 6"/>
<line x1="874.9" y1="697.3" x2="874.9" y2="752.2" stroke="#222" stroke-width="1.60"/>
<line x1="983.7" y1="697.3" x2="983.7" y2="752.2" stroke="#222" stroke-width="1.60"/>
<line x1="874.9" y1="700.3" x2="983.7" y2="700.3" stroke="#222" stroke-width="1.20"/>
<polygon points="874.9,700.3 883.9,698.3 883.9,702.3" fill="#222"/>
<polygon points="983.7,700.3 974.7,702.3 974.7,698.3" fill="#222"/>
<text x="933.8" y="698.3" font-size="12.0" text-anchor="middle" font-weight="bold" fill="#111" stroke="#111" stroke-width="0.3">18</text>
<line x1="929.3" y1="812.5" x2="881.4" y2="731.6" stroke="#222" stroke-width="1.30"/>
<line x1="929.3" y1="812.5" x2="977.1" y2="731.6" stroke="#222" stroke-width="1.30"/>
<path d="M883.4,733.1 A91.7,91.7 0 0 1 975.1,733.1" fill="none" stroke="#222" stroke-width="1.30"/>
<polygon points="929.3,720.8 937.3,719.0 937.3,722.6" fill="#222"/>
<polygon points="929.3,720.8 921.3,722.6 921.3,719.0" fill="#222"/>
<text x="907.3" y="721.8" font-size="12.5" text-anchor="middle" font-weight="bold" fill="#111" stroke="#111" stroke-width="0.3" transform="rotate(-12.0 907.3 721.8)">30°</text>
<text x="956.3" y="721.8" font-size="12.5" text-anchor="middle" font-weight="bold" fill="#111" stroke="#111" stroke-width="0.3" transform="rotate(14.0 956.3 721.8)" font-style="italic">30°</text>
<line x1="923.3" y1="750.0" x2="1015.0" y2="750.0" stroke="#222" stroke-width="1.20"/>
<line x1="923.3" y1="875.0" x2="1015.0" y2="875.0" stroke="#222" stroke-width="1.20"/>
<line x1="1010.0" y1="750.0" x2="1010.0" y2="875.0" stroke="#222" stroke-width="1.20"/>
<polygon points="1010.0,750.0 1012.0,759.0 1008.0,759.0" fill="#222"/>
<polygon points="1010.0,875.0 1008.0,866.0 1012.0,866.0" fill="#222"/>
<text x="1006.0" y="815.5" font-size="13.0" text-anchor="middle" font-weight="bold" fill="#111" stroke="#111" stroke-width="0.3" transform="rotate(-90.0 1006.0 815.5)">Φ21</text>
<line x1="897.6" y1="867.5" x2="836.7" y2="902.5" stroke="#222" stroke-width="1.30"/>
<text x="850.7" y="888.7" font-size="11.5" text-anchor="middle" font-weight="bold" fill="#111" stroke="#111" stroke-width="0.3" transform="rotate(-29.9 850.7 888.7)">4-Φ3.40</text>
<text x="997.0" y="916.0" font-size="12.5" text-anchor="middle" font-weight="bold" fill="#111" stroke="#111" stroke-width="0.3">0801/0802</text>
<rect x="1050.4" y="497.8" width="22.9" height="155.2" rx="0.0" fill="none" stroke="#222" stroke-width="1.60"/>
<line x1="1050.4" y1="517.6" x2="1073.3" y2="517.6" stroke="#222" stroke-width="1.60"/>
<line x1="1050.4" y1="634.0" x2="1073.3" y2="634.0" stroke="#222" stroke-width="1.60"/>
<polyline points="1073.3,536.1 1147.4,536.1 1147.4,614.2 1073.3,614.2" fill="none" stroke="#222" stroke-width="1.60" stroke-linejoin="round"/>
<line x1="1050.4" y1="457.4" x2="1050.4" y2="497.8" stroke="#222" stroke-width="1.60"/>
<line x1="1147.4" y1="457.4" x2="1147.4" y2="536.1" stroke="#222" stroke-width="1.60"/>
<line x1="1050.4" y1="461.4" x2="1147.4" y2="461.4" stroke="#222" stroke-width="1.20"/>
<polygon points="1050.4,461.4 1059.4,459.4 1059.4,463.4" fill="#222"/>
<polygon points="1147.4,461.4 1138.4,463.4 1138.4,459.4" fill="#222"/>
<text x="1098.9" y="458.9" font-size="12.0" text-anchor="middle" font-weight="bold" fill="#111" stroke="#111" stroke-width="0.3">15</text>
<line x1="1073.3" y1="480.1" x2="1073.3" y2="497.8" stroke="#222" stroke-width="1.20"/>
<line x1="1050.4" y1="485.1" x2="1073.3" y2="485.1" stroke="#222" stroke-width="1.20"/>
<polygon points="1050.4,485.1 1057.4,483.3 1057.4,486.9" fill="#222"/>
<polygon points="1073.3,485.1 1066.3,486.9 1066.3,483.3" fill="#222"/>
<text x="1062.8" y="482.1" font-size="12.0" text-anchor="middle" font-weight="bold" fill="#111" stroke="#111" stroke-width="0.3">3.50</text>
<line x1="1028.8" y1="497.8" x2="1050.4" y2="497.8" stroke="#222" stroke-width="1.20"/>
<line x1="1028.8" y1="653.0" x2="1050.4" y2="653.0" stroke="#222" stroke-width="1.20"/>
<line x1="1029.8" y1="489.8" x2="1029.8" y2="661.0" stroke="#222" stroke-width="1.20"/>
<polygon points="1029.8,497.8 1031.6,504.8 1028.0,504.8" fill="#222"/>
<polygon points="1029.8,653.0 1028.0,646.0 1031.6,646.0" fill="#222"/>
<text x="1025.8" y="576.4" font-size="13.0" text-anchor="middle" font-weight="bold" fill="#111" stroke="#111" stroke-width="0.3" transform="rotate(-90.0 1025.8 576.4)">Φ24</text>
<line x1="1147.4" y1="536.1" x2="1177.2" y2="536.1" stroke="#222" stroke-width="1.20"/>
<line x1="1147.4" y1="614.2" x2="1177.2" y2="614.2" stroke="#222" stroke-width="1.20"/>
<line x1="1176.2" y1="529.1" x2="1176.2" y2="623.2" stroke="#222" stroke-width="1.20"/>
<polygon points="1176.2,536.1 1178.0,543.1 1174.4,543.1" fill="#222"/>
<polygon points="1176.2,614.2 1174.4,607.2 1178.0,607.2" fill="#222"/>
<text x="1172.2" y="576.2" font-size="13.0" text-anchor="middle" font-weight="bold" fill="#111" stroke="#111" stroke-width="0.3" transform="rotate(-90.0 1172.2 576.2)">Φ12</text>
<rect x="1055.6" y="734.3" width="24.1" height="161.8" rx="0.0" fill="none" stroke="#222" stroke-width="1.60"/>
<line x1="1055.6" y1="754.4" x2="1079.7" y2="754.4" stroke="#222" stroke-width="1.60"/>
<line x1="1055.6" y1="876.0" x2="1079.7" y2="876.0" stroke="#222" stroke-width="1.60"/>
<polyline points="1079.7,773.1 1152.0,773.1 1152.0,857.3 1079.7,857.3" fill="none" stroke="#222" stroke-width="1.60" stroke-linejoin="round"/>
<line x1="1055.6" y1="696.3" x2="1055.6" y2="734.3" stroke="#222" stroke-width="1.60"/>
<line x1="1152.0" y1="696.3" x2="1152.0" y2="773.1" stroke="#222" stroke-width="1.60"/>
<line x1="1055.6" y1="700.3" x2="1152.0" y2="700.3" stroke="#222" stroke-width="1.20"/>
<polygon points="1055.6,700.3 1064.6,698.3 1064.6,702.3" fill="#222"/>
<polygon points="1152.0,700.3 1143.0,702.3 1143.0,698.3" fill="#222"/>
<text x="1103.8" y="697.8" font-size="12.0" text-anchor="middle" font-weight="bold" fill="#111" stroke="#111" stroke-width="0.3">16</text>
<line x1="1079.7" y1="717.0" x2="1079.7" y2="734.3" stroke="#222" stroke-width="1.20"/>
<line x1="1055.6" y1="722.0" x2="1079.7" y2="722.0" stroke="#222" stroke-width="1.20"/>
<polygon points="1055.6,722.0 1062.6,720.2 1062.6,723.8" fill="#222"/>
<polygon points="1079.7,722.0 1072.7,723.8 1072.7,720.2" fill="#222"/>
<text x="1068.7" y="719.0" font-size="12.0" text-anchor="middle" font-weight="bold" fill="#111" stroke="#111" stroke-width="0.3">4</text>
<line x1="1036.0" y1="734.3" x2="1055.6" y2="734.3" stroke="#222" stroke-width="1.20"/>
<line x1="1036.0" y1="896.1" x2="1055.6" y2="896.1" stroke="#222" stroke-width="1.20"/>
<line x1="1037.0" y1="726.3" x2="1037.0" y2="904.1" stroke="#222" stroke-width="1.20"/>
<polygon points="1037.0,734.3 1038.8,741.3 1035.2,741.3" fill="#222"/>
<polygon points="1037.0,896.1 1035.2,889.1 1038.8,889.1" fill="#222"/>
<text x="1033.0" y="816.2" font-size="13.0" text-anchor="middle" font-weight="bold" fill="#111" stroke="#111" stroke-width="0.3" transform="rotate(-90.0 1033.0 816.2)">Φ27</text>
<line x1="1152.0" y1="773.1" x2="1179.6" y2="773.1" stroke="#222" stroke-width="1.20"/>
<line x1="1152.0" y1="857.3" x2="1179.6" y2="857.3" stroke="#222" stroke-width="1.20"/>
<line x1="1178.6" y1="766.1" x2="1178.6" y2="866.3" stroke="#222" stroke-width="1.20"/>
<polygon points="1178.6,773.1 1180.4,780.1 1176.8,780.1" fill="#222"/>
<polygon points="1178.6,857.3 1176.8,850.3 1180.4,850.3" fill="#222"/>
<text x="1174.6" y="816.2" font-size="13.0" text-anchor="middle" font-weight="bold" fill="#111" stroke="#111" stroke-width="0.3" transform="rotate(-90.0 1174.6 816.2)">Φ14</text>
</g>
<rect x="112.2" y="1358.2" width="465.3" height="239.3" fill="#c7e7f9"/>
<g stroke="#1e1e1e" stroke-width="2.2"><line x1="112.2" y1="1358.2" x2="112.2" y2="1597.5"/><line x1="158.7" y1="1358.2" x2="158.7" y2="1597.5"/><line x1="205.3" y1="1358.2" x2="205.3" y2="1597.5"/><line x1="251.8" y1="1358.2" x2="251.8" y2="1597.5"/><line x1="298.3" y1="1358.2" x2="298.3" y2="1597.5"/><line x1="344.9" y1="1358.2" x2="344.9" y2="1597.5"/><line x1="391.4" y1="1358.2" x2="391.4" y2="1597.5"/><line x1="437.9" y1="1358.2" x2="437.9" y2="1597.5"/><line x1="484.4" y1="1358.2" x2="484.4" y2="1597.5"/><line x1="531.0" y1="1358.2" x2="531.0" y2="1597.5"/><line x1="577.5" y1="1358.2" x2="577.5" y2="1597.5"/><line x1="112.2" y1="1358.2" x2="577.5" y2="1358.2"/><line x1="112.2" y1="1388.1" x2="577.5" y2="1388.1"/><line x1="112.2" y1="1418.0" x2="577.5" y2="1418.0"/><line x1="112.2" y1="1447.9" x2="577.5" y2="1447.9"/><line x1="112.2" y1="1477.8" x2="577.5" y2="1477.8"/><line x1="112.2" y1="1507.8" x2="577.5" y2="1507.8"/><line x1="112.2" y1="1537.7" x2="577.5" y2="1537.7"/><line x1="112.2" y1="1567.6" x2="577.5" y2="1567.6"/><line x1="112.2" y1="1597.5" x2="577.5" y2="1597.5"/></g>
<path d="M158.6,1381.2 C162.4,1383.3 174.0,1390.0 181.7,1394.0 C189.4,1398.0 196.8,1401.9 204.8,1405.0 C212.7,1408.1 221.6,1409.9 229.3,1412.3 C237.1,1414.8 244.0,1417.2 251.3,1419.7 C258.7,1422.1 265.5,1424.3 273.3,1427.0 C281.2,1429.8 290.3,1433.4 298.3,1436.2 C306.2,1438.9 313.3,1441.1 321.0,1443.5 C328.8,1446.0 336.9,1448.4 344.9,1450.8 C352.8,1453.3 360.9,1455.5 368.7,1458.2 C376.5,1460.8 383.5,1463.6 391.4,1466.6 C399.4,1469.7 408.7,1472.8 416.4,1476.5 C424.1,1480.2 430.3,1484.0 437.6,1488.6 C445.0,1493.2 452.6,1498.7 460.4,1504.0 C468.1,1509.3 476.3,1515.9 484.2,1520.5 C492.1,1525.1 500.3,1527.9 508.0,1531.5 C515.8,1535.2 527.0,1540.7 530.8,1542.5" fill="none" stroke="#e8231e" stroke-width="3.2" stroke-linecap="round"/>
<path d="M158.6,1485.7 C162.4,1486.1 174.0,1487.1 181.7,1488.2 C189.4,1489.3 196.8,1490.6 204.8,1492.3 C212.7,1494.0 221.6,1496.4 229.3,1498.5 C237.1,1500.6 244.0,1503.1 251.3,1504.7 C258.7,1506.4 265.5,1507.2 273.3,1508.4 C281.2,1509.6 290.3,1511.0 298.3,1512.1 C306.2,1513.2 313.3,1513.9 321.0,1515.0 C328.8,1516.1 336.9,1517.0 344.9,1518.7 C352.8,1520.4 360.9,1523.1 368.7,1525.3 C376.5,1527.4 383.5,1529.3 391.4,1531.5 C399.4,1533.8 408.7,1536.6 416.4,1538.9 C424.1,1541.1 430.3,1542.9 437.6,1545.1 C445.0,1547.2 452.6,1549.5 460.4,1551.7 C468.1,1553.9 476.3,1556.1 484.2,1558.3 C492.1,1560.4 500.3,1562.4 508.0,1564.5 C515.8,1566.7 527.0,1570.0 530.8,1571.1" fill="none" stroke="#1fa54a" stroke-width="3.2" stroke-linecap="round"/>
<g font-size="17.5" fill="#111" stroke="#111" stroke-width="0.35"><text x="85.5" y="1370.7" text-anchor="middle">160</text><text x="85.5" y="1399.9" text-anchor="middle">140</text><text x="85.5" y="1429.1" text-anchor="middle">120</text><text x="85.5" y="1458.4" text-anchor="middle">100</text><text x="85.5" y="1487.6" text-anchor="middle">80</text><text x="85.5" y="1516.8" text-anchor="middle">60</text><text x="85.5" y="1546.0" text-anchor="middle">40</text><text x="85.5" y="1575.2" text-anchor="middle">20</text><text x="85.5" y="1604.5" text-anchor="middle">0</text><text x="158.7" y="1629.5" text-anchor="middle">200</text><text x="158.7" y="1656" text-anchor="middle">60</text><text x="205.3" y="1629.5" text-anchor="middle">400</text><text x="205.3" y="1656" text-anchor="middle">120</text><text x="251.8" y="1629.5" text-anchor="middle">600</text><text x="251.8" y="1656" text-anchor="middle">180</text><text x="298.3" y="1629.5" text-anchor="middle">800</text><text x="298.3" y="1656" text-anchor="middle">240</text><text x="344.9" y="1629.5" text-anchor="middle">1000</text><text x="344.9" y="1656" text-anchor="middle">300</text><text x="391.4" y="1629.5" text-anchor="middle">1200</text><text x="391.4" y="1656" text-anchor="middle">360</text><text x="437.9" y="1629.5" text-anchor="middle">1400</text><text x="437.9" y="1656" text-anchor="middle">420</text><text x="484.4" y="1629.5" text-anchor="middle">1600</text><text x="484.4" y="1656" text-anchor="middle">480</text><text x="531.0" y="1629.5" text-anchor="middle">1800</text><text x="531.0" y="1656" text-anchor="middle">540</text><text x="577.5" y="1629.5" text-anchor="middle">2000</text><text x="577.5" y="1656" text-anchor="middle">600</text></g>
<rect x="697.6" y="1358.0" width="465.0" height="239.6" fill="#c7e7f9"/>
<g stroke="#1e1e1e" stroke-width="2.2"><line x1="697.6" y1="1358.0" x2="697.6" y2="1597.6"/><line x1="744.1" y1="1358.0" x2="744.1" y2="1597.6"/><line x1="790.6" y1="1358.0" x2="790.6" y2="1597.6"/><line x1="837.1" y1="1358.0" x2="837.1" y2="1597.6"/><line x1="883.6" y1="1358.0" x2="883.6" y2="1597.6"/><line x1="930.1" y1="1358.0" x2="930.1" y2="1597.6"/><line x1="976.6" y1="1358.0" x2="976.6" y2="1597.6"/><line x1="1023.1" y1="1358.0" x2="1023.1" y2="1597.6"/><line x1="1069.6" y1="1358.0" x2="1069.6" y2="1597.6"/><line x1="1116.1" y1="1358.0" x2="1116.1" y2="1597.6"/><line x1="1162.6" y1="1358.0" x2="1162.6" y2="1597.6"/><line x1="697.6" y1="1358.0" x2="1162.6" y2="1358.0"/><line x1="697.6" y1="1392.2" x2="1162.6" y2="1392.2"/><line x1="697.6" y1="1426.5" x2="1162.6" y2="1426.5"/><line x1="697.6" y1="1460.7" x2="1162.6" y2="1460.7"/><line x1="697.6" y1="1494.9" x2="1162.6" y2="1494.9"/><line x1="697.6" y1="1529.1" x2="1162.6" y2="1529.1"/><line x1="697.6" y1="1563.4" x2="1162.6" y2="1563.4"/><line x1="697.6" y1="1597.6" x2="1162.6" y2="1597.6"/></g>
<path d="M743.6,1370.2 C747.4,1372.3 758.8,1378.7 766.7,1383.0 C774.5,1387.3 782.6,1393.1 790.5,1395.8 C798.5,1398.6 806.6,1398.6 814.3,1399.5 C822.1,1400.4 829.1,1400.4 837.1,1401.3 C845.0,1402.3 854.2,1403.5 862.0,1405.0 C869.8,1406.5 876.7,1408.4 884.0,1410.5 C891.3,1412.6 898.3,1415.3 906.0,1417.8 C913.7,1420.4 922.3,1423.5 930.2,1425.9 C938.2,1428.4 945.9,1430.2 953.7,1432.5 C961.5,1434.8 970.1,1436.8 976.8,1439.8 C983.5,1442.9 988.1,1446.9 994.0,1450.8 C1000.0,1454.8 1007.5,1460.6 1012.4,1463.7 C1017.3,1466.7 1017.9,1467.0 1023.4,1469.2 C1028.9,1471.3 1037.6,1474.1 1045.4,1476.5 C1053.1,1479.0 1062.6,1480.5 1069.9,1483.8 C1077.3,1487.2 1081.7,1491.9 1089.4,1496.7 C1097.1,1501.4 1111.7,1509.8 1116.1,1512.4" fill="none" stroke="#e8231e" stroke-width="3.2" stroke-linecap="round"/>
<path d="M743.6,1456.3 C751.4,1457.4 774.9,1460.5 790.5,1462.9 C806.1,1465.4 821.5,1468.1 837.1,1471.0 C852.7,1473.9 868.5,1477.1 884.0,1480.2 C899.5,1483.2 918.6,1486.6 930.2,1489.3 C941.8,1492.1 945.9,1494.1 953.7,1496.7 C961.5,1499.2 965.2,1501.0 976.8,1504.7 C988.4,1508.5 1011.9,1515.7 1023.4,1519.4 C1034.8,1523.1 1037.6,1524.1 1045.4,1526.8 C1053.1,1529.4 1058.1,1531.3 1069.9,1535.2 C1081.7,1539.0 1108.4,1547.4 1116.1,1549.9" fill="none" stroke="#1fa54a" stroke-width="3.2" stroke-linecap="round"/>
<g font-size="17.5" fill="#111" stroke="#111" stroke-width="0.35"><text x="671.5" y="1370.8" text-anchor="middle">350</text><text x="671.5" y="1404.0" text-anchor="middle">300</text><text x="671.5" y="1437.1" text-anchor="middle">250</text><text x="671.5" y="1470.3" text-anchor="middle">200</text><text x="671.5" y="1503.5" text-anchor="middle">150</text><text x="671.5" y="1536.7" text-anchor="middle">100</text><text x="671.5" y="1569.8" text-anchor="middle">50</text><text x="671.5" y="1603.0" text-anchor="middle">0</text><text x="744.1" y="1629.5" text-anchor="middle">200</text><text x="744.1" y="1656" text-anchor="middle">60</text><text x="790.6" y="1629.5" text-anchor="middle">400</text><text x="790.6" y="1656" text-anchor="middle">120</text><text x="837.1" y="1629.5" text-anchor="middle">600</text><text x="837.1" y="1656" text-anchor="middle">180</text><text x="883.6" y="1629.5" text-anchor="middle">800</text><text x="883.6" y="1656" text-anchor="middle">240</text><text x="930.1" y="1629.5" text-anchor="middle">1000</text><text x="930.1" y="1656" text-anchor="middle">300</text><text x="976.6" y="1629.5" text-anchor="middle">1200</text><text x="976.6" y="1656" text-anchor="middle">360</text><text x="1023.1" y="1629.5" text-anchor="middle">1400</text><text x="1023.1" y="1656" text-anchor="middle">420</text><text x="1069.6" y="1629.5" text-anchor="middle">1600</text><text x="1069.6" y="1656" text-anchor="middle">480</text><text x="1116.1" y="1629.5" text-anchor="middle">1800</text><text x="1116.1" y="1656" text-anchor="middle">540</text><text x="1162.6" y="1629.5" text-anchor="middle">2000</text><text x="1162.6" y="1656" text-anchor="middle">600</text></g>
<g font-size="17.5" fill="#111" stroke="#111" stroke-width="0.35">
<text x="69" y="1629.5">脉冲pps</text><text x="68" y="1656">转速rpm</text>
<text x="655" y="1629.5">脉冲pps</text><text x="653" y="1656">转速rpm</text>
</g>
<g font-size="16.5" fill="#444" stroke="#444" stroke-width="0.2">
<text x="212.5" y="1446" textLength="55" lengthAdjust="spacingAndGlyphs">BS0801</text><text x="214" y="1528.5" textLength="55.5" lengthAdjust="spacingAndGlyphs">BS0802</text>
<text x="805" y="1421" textLength="54" lengthAdjust="spacingAndGlyphs">BS0801</text><text x="805" y="1496.5" textLength="56" lengthAdjust="spacingAndGlyphs">BS0802</text>
</g>
<g font-size="14.5" fill="#111" stroke="#111" stroke-width="0.35">
<text x="315" y="1338" text-anchor="middle">28系列 34mm机身转速与推力曲线</text>
<text x="905" y="1338" text-anchor="middle">28系列 45mm机身转速与推力曲线</text>
</g>
<g font-size="18" fill="#111" stroke="#111" stroke-width="0.5">
<text transform="translate(56,1461) rotate(-90)" text-anchor="middle">推力（N）</text>
<text transform="translate(641,1461) rotate(-90)" text-anchor="middle">推力（N）</text>
</g>
</svg>
</body></html>
